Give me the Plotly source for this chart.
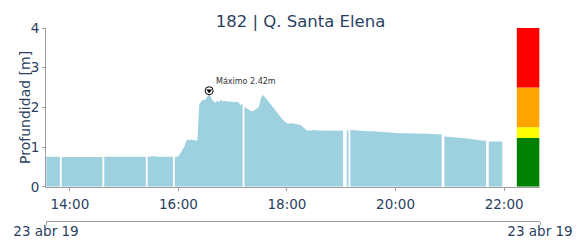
import plotly.graph_objects as go

DATE = "2019-04-23"

# Water level samples (None = missing data -> gap)
times = [
    "13:34", "13:38", "13:42", "13:46", "13:49", "13:50",
    "13:51", "13:56", "14:01", "14:06", "14:11", "14:16", "14:21", "14:26", "14:31", "14:36", "14:37",
    "14:38", "14:44", "14:50", "14:56", "15:02", "15:08", "15:14", "15:20", "15:24", "15:25",
    "15:26", "15:32", "15:38", "15:44", "15:50", "15:54", "15:55",
    "15:56", "15:59", "16:01", "16:03", "16:05", "16:07", "16:08", "16:10", "16:12", "16:15", "16:18",
    "16:21", "16:22", "16:23", "16:25", "16:27", "16:29", "16:31", "16:33", "16:34", "16:35", "16:37",
    "16:39", "16:41", "16:43", "16:45", "16:47", "16:49", "16:52", "16:55", "16:58", "17:01", "17:04",
    "17:07", "17:09", "17:11", "17:12",
    "17:13", "17:16", "17:19", "17:22", "17:25", "17:27", "17:29", "17:31", "17:33", "17:35", "17:37",
    "17:40", "17:43", "17:46", "17:49", "17:52", "17:55", "17:58", "18:01", "18:05", "18:09", "18:13",
    "18:16", "18:19", "18:22", "18:26", "18:30", "18:35", "18:40", "18:45", "18:50", "18:55", "19:02", "19:03",
    "19:06", "19:08", "19:09",
    "19:10", "19:15", "19:20", "19:25", "19:30", "19:35", "19:40", "19:45", "19:50", "19:55", "20:00",
    "20:05", "20:10", "20:15", "20:20", "20:25", "20:30", "20:35", "20:40", "20:45", "20:51", "20:52",
    "20:54", "21:00", "21:05", "21:10", "21:15", "21:20", "21:25", "21:30", "21:35", "21:40", "21:41",
    "21:43", "21:48", "21:53", "21:58",
]
levels = [
    0.76, 0.76, 0.75, 0.76, 0.76, None,
    0.75, 0.75, 0.75, 0.75, 0.76, 0.75, 0.76, 0.76, 0.75, 0.75, None,
    0.76, 0.76, 0.77, 0.76, 0.76, 0.76, 0.76, 0.76, 0.76, None,
    0.76, 0.77, 0.76, 0.76, 0.76, 0.76, None,
    0.76, 0.76, 0.80, 0.86, 0.95, 1.03, 1.12, 1.19, 1.18, 1.19, 1.17,
    1.17, 1.70, 2.08, 2.14, 2.20, 2.18, 2.25, 2.30, 2.42, 2.30, 2.20,
    2.14, 2.11, 2.18, 2.13, 2.20, 2.15, 2.17, 2.14, 2.15, 2.13, 2.15,
    2.12, 2.05, 2.10, None,
    2.02, 1.97, 1.92, 1.90, 1.95, 2.00, 2.01, 2.22, 2.31, 2.28, 2.22,
    2.14, 2.07, 1.97, 1.87, 1.78, 1.70, 1.63, 1.59, 1.60, 1.59, 1.57,
    1.54, 1.47, 1.42, 1.42, 1.43, 1.42, 1.42, 1.42, 1.42, 1.41, 1.41, None,
    1.42, 1.42, None,
    1.43, 1.42, 1.42, 1.41, 1.40, 1.40, 1.39, 1.38, 1.38, 1.37, 1.36,
    1.35, 1.35, 1.35, 1.35, 1.34, 1.34, 1.34, 1.33, 1.33, 1.32, None,
    1.27, 1.26, 1.25, 1.25, 1.24, 1.22, 1.20, 1.18, 1.17, 1.16, None,
    1.14, 1.14, 1.14, 1.14,
]

# Alert thresholds (colour bar on the right)
alert_bottoms = [0, 1.23, 1.5, 2.5]
alert_tops = [1.23, 1.5, 2.5, 4]
alert_colors = ["green", "yellow", "orange", "red"]
alert_time = "22:26:30"
alert_width_min = 24.9

title_text = "182 | Q. Santa Elena"
y_title = "Profundidad [m]"
date_label = "23 abr 19"
x_range = ["13:33:40", "22:39:40"]

x_vals = [f"{DATE} {t}" for t in times]
valid = [(x, v) for x, v in zip(x_vals, levels) if v is not None]
x_max, v_max = max(valid, key=lambda p: p[1])

# split the series into contiguous segments at missing values
segments, cur = [], []
for x, v in zip(x_vals, levels):
    if v is None:
        if cur:
            segments.append(cur)
        cur = []
    else:
        cur.append((x, v))
if cur:
    segments.append(cur)

FONT = "DejaVu Sans"
TXT = "#2a3f5f"
AX = "#a0a0a0"
FILL = "#9ED1DF"

fig = go.Figure()
for seg in segments:
    fig.add_trace(go.Scatter(
        x=[p[0] for p in seg], y=[p[1] for p in seg], mode="lines", fill="tozeroy",
        fillcolor=FILL, line=dict(color=FILL, width=0),
        hoverinfo="skip",
    ))
fig.add_trace(go.Bar(
    x=[f"{DATE} {alert_time}"] * len(alert_colors),
    y=[t - b for t, b in zip(alert_tops, alert_bottoms)],
    base=alert_bottoms,
    width=[alert_width_min * 60000] * len(alert_colors),
    marker=dict(color=alert_colors, line=dict(width=0)),
    hoverinfo="skip",
))
fig.add_trace(go.Scatter(
    x=[x_max], y=[v_max], mode="markers",
    marker=dict(symbol="circle", size=8, color="white", line=dict(color="black", width=1)),
    hoverinfo="skip",
))
fig.add_trace(go.Scatter(
    x=[x_max], y=[v_max], mode="markers",
    marker=dict(symbol="triangle-down", size=5, color="black", line=dict(width=0)),
    hoverinfo="skip",
))
# invisible trace to carry the date axis
fig.add_trace(go.Scatter(
    x=[f"{DATE} {x_range[0]}", f"{DATE} {x_range[1]}"], y=[None, None],
    xaxis="x2", mode="markers", showlegend=False, hoverinfo="skip",
))

fig.add_annotation(
    x=x_max, y=v_max, xref="x", yref="y",
    text=f"Máximo {v_max:.2f}m", showarrow=False,
    xanchor="left", yanchor="bottom", xshift=5, yshift=3,
    font=dict(family=FONT, size=8, color="#333"),
)
# y-axis title
fig.add_annotation(
    x=0, y=2, xref="paper", yref="y", text=y_title, textangle=-90,
    showarrow=False, xanchor="center", yanchor="middle", xshift=-20.5,
    font=dict(family=FONT, size=14, color=TXT),
)

rng = [f"{DATE} {x_range[0]}", f"{DATE} {x_range[1]}"]
fig.update_layout(
    width=585, height=243,
    margin=dict(l=37.5, r=53, t=20.3, b=29.5, pad=0, autoexpand=False),
    paper_bgcolor="white", plot_bgcolor="white",
    showlegend=False, barmode="overlay",
    font=dict(family=FONT, size=13.5, color=TXT),
    title=dict(text=title_text, x=0.5, xanchor="center", y=1 - 13 / 243, yanchor="middle",
               yref="container", font=dict(family=FONT, size=16.5, color=TXT), automargin=False),
    xaxis=dict(
        type="date", range=rng, domain=[0, 1], anchor="y", automargin=False,
        tickformat="%H:%M", dtick=2 * 3600000, tick0=f"{DATE} 00:00",
        showline=True, linecolor=AX, linewidth=1,
        ticks="outside", ticklen=3, tickcolor=AX, ticklabelstandoff=2,
        showgrid=False, zeroline=False, tickfont=dict(size=13.5, color=TXT),
    ),
    xaxis2=dict(
        type="date", range=rng, overlaying="x", anchor="free", position=0, side="bottom",
        automargin=False,
        tickmode="array", tickvals=rng, ticktext=[date_label, date_label],
        showline=True, linecolor=AX, linewidth=1,
        ticks="outside", ticklen=3, tickcolor=AX, ticklabelstandoff=-5,
        showgrid=False, zeroline=False, tickfont=dict(size=13.5, color=TXT),
    ),
    yaxis=dict(
        range=[0, 4], domain=[0.177, 1], dtick=1, automargin=False,
        showline=True, linecolor=AX, linewidth=1,
        ticks="outside", ticklen=3, tickcolor=AX,
        showgrid=False, zeroline=False,
        tickfont=dict(size=13.5, color=TXT),
    ),
)

fig.write_html("out.html")
